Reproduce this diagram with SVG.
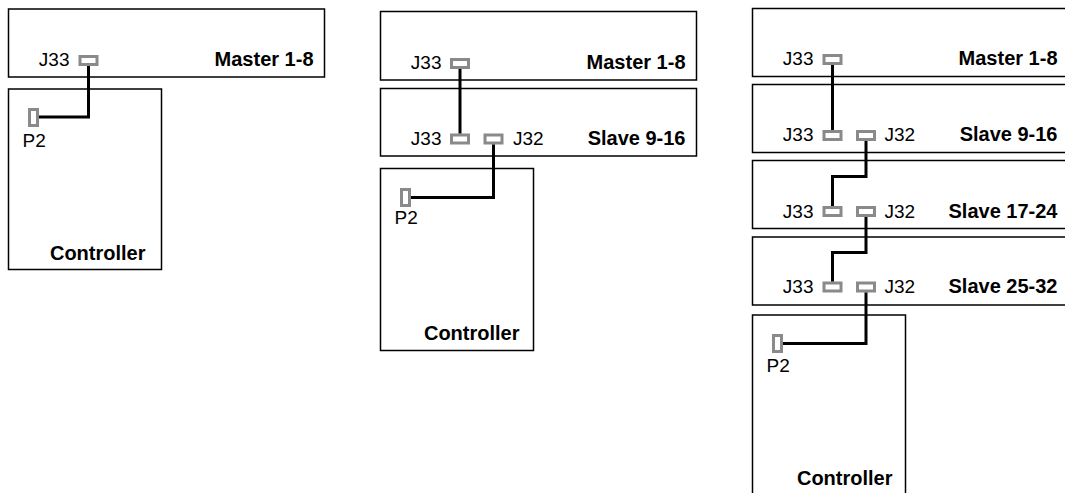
<svg xmlns="http://www.w3.org/2000/svg" width="1065" height="493" viewBox="0 0 1065 493">
<style>
.box{fill:#fff;stroke:#000;stroke-width:1.5}
.pin{fill:#fff;stroke:#8a8a8a;stroke-width:3}
.t{font-family:"Liberation Sans",Arial,sans-serif;font-size:19px;fill:#000}
.b{font-family:"Liberation Sans",Arial,sans-serif;font-size:20px;font-weight:bold;fill:#000}
.w{fill:none;stroke:#000;stroke-width:3;stroke-linejoin:miter}
</style>
<rect width="1065" height="493" fill="#fff"/>
<!-- Panel 1 -->
<g id="p1-master">
<rect class="box" x="8.5" y="9" width="316" height="68"/>
<rect class="pin" x="80" y="56.5" width="17" height="8"/>
<text class="t" x="69.5" y="66" text-anchor="end">J33</text>
<text class="b" x="313.5" y="66" text-anchor="end">Master 1-8</text>
</g>
<g id="p1-controller">
<rect class="box" x="8.5" y="89" width="153" height="180.5"/>
<rect class="pin" x="29.5" y="109.5" width="8" height="16"/>
<text class="t" x="22.5" y="146.5">P2</text>
<text class="b" x="145.5" y="260" text-anchor="end">Controller</text>
</g>
<!-- Panel 2 -->
<g id="p2-master">
<rect class="box" x="380.5" y="11.5" width="316" height="68.5"/>
<rect class="pin" x="451.5" y="59.5" width="17" height="8"/>
<text class="t" x="441.5" y="68.5" text-anchor="end">J33</text>
<text class="b" x="685.5" y="68.5" text-anchor="end">Master 1-8</text>
</g>
<g id="p2-slave1">
<rect class="box" x="380.5" y="88.5" width="316" height="67.5"/>
<rect class="pin" x="451.5" y="135" width="17" height="8"/>
<rect class="pin" x="485" y="135" width="17" height="8"/>
<text class="t" x="441.5" y="145" text-anchor="end">J33</text>
<text class="t" x="513" y="145">J32</text>
<text class="b" x="685.5" y="145" text-anchor="end">Slave 9-16</text>
</g>
<g id="p2-controller">
<rect class="box" x="380.5" y="168.5" width="153" height="182"/>
<rect class="pin" x="401.5" y="189.5" width="8" height="16"/>
<text class="t" x="394.5" y="224">P2</text>
<text class="b" x="519.5" y="339.5" text-anchor="end">Controller</text>
</g>
<!-- Panel 3 -->
<g id="p3-master">
<rect class="box" x="752.5" y="8.5" width="316" height="68"/>
<rect class="pin" x="824" y="55.5" width="17" height="8"/>
<text class="t" x="813.5" y="64.5" text-anchor="end">J33</text>
<text class="b" x="1057.5" y="64.5" text-anchor="end">Master 1-8</text>
</g>
<g id="p3-slave1">
<rect class="box" x="752.5" y="84.5" width="316" height="68"/>
<rect class="pin" x="824" y="131.5" width="17" height="8"/>
<rect class="pin" x="857.5" y="131.5" width="17" height="8"/>
<text class="t" x="813.5" y="141" text-anchor="end">J33</text>
<text class="t" x="884.5" y="141">J32</text>
<text class="b" x="1057.5" y="141" text-anchor="end">Slave 9-16</text>
</g>
<g id="p3-slave2">
<rect class="box" x="752.5" y="160.5" width="316" height="68"/>
<rect class="pin" x="824" y="207.5" width="17" height="8"/>
<rect class="pin" x="857.5" y="207.5" width="17" height="8"/>
<text class="t" x="813.5" y="217.5" text-anchor="end">J33</text>
<text class="t" x="884.5" y="217.5">J32</text>
<text class="b" x="1057.5" y="217.5" text-anchor="end">Slave 17-24</text>
</g>
<g id="p3-slave3">
<rect class="box" x="752.5" y="237" width="316" height="68"/>
<rect class="pin" x="824" y="283" width="17" height="8"/>
<rect class="pin" x="857.5" y="283" width="17" height="8"/>
<text class="t" x="813.5" y="293" text-anchor="end">J33</text>
<text class="t" x="884.5" y="293">J32</text>
<text class="b" x="1057.5" y="293" text-anchor="end">Slave 25-32</text>
</g>
<g id="p3-controller">
<rect class="box" x="752.5" y="315" width="153" height="190"/>
<rect class="pin" x="773.5" y="335.5" width="8" height="16"/>
<text class="t" x="766.5" y="371.5">P2</text>
<text class="b" x="892.5" y="485" text-anchor="end">Controller</text>
</g>
<g id="connectors">
<polyline class="w" points="88.5,66 88.5,117 39,117"/>
<polyline class="w" points="460,69 460,133.5"/>
<polyline class="w" points="493.5,144.5 493.5,197.5 411,197.5"/>
<polyline class="w" points="832.5,65 832.5,130"/>
<polyline class="w" points="866,141 866,176.5 832.5,176.5 832.5,206"/>
<polyline class="w" points="866,217 866,252.5 832.5,252.5 832.5,281.5"/>
<polyline class="w" points="866,292.5 866,343.5 783,343.5"/>
</g>
</svg>
